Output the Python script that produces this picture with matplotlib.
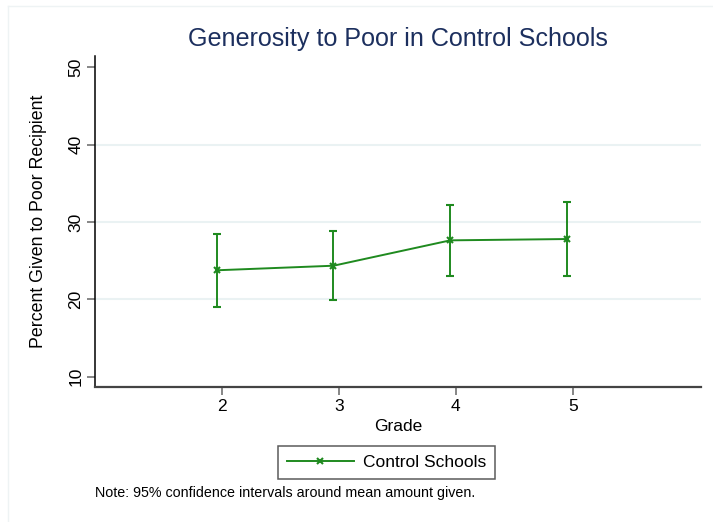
import numpy as np
import matplotlib.pyplot as plt
from matplotlib.lines import Line2D

plt.rcParams['font.family'] = ['Liberation Sans', 'DejaVu Sans']

grades = [2, 3, 4, 5]
mean_given = [23.76, 24.35, 27.63, 27.80]
ci_low = [19.05, 19.92, 23.02, 23.02]
ci_high = [28.45, 28.88, 32.24, 32.55]

# control schools are drawn slightly left of each grade
offset = -0.048

green = '#1f8a1f'
fig = plt.figure(figsize=(7.13, 5.22), dpi=100)
ax = fig.add_axes([0.1332, 0.2586, 0.8496, 0.6341])

x = np.array(grades) + offset
y = np.array(mean_given)
yerr = [y - np.array(ci_low), np.array(ci_high) - y]
ax.errorbar(x, y, yerr=yerr, color=green, lw=1.4, elinewidth=1.4,
            capsize=2.6, capthick=1.4, marker='x', ms=4, mew=1.5)

ax.set_xlim(0.91, 6.096)
ax.set_ylim(8.67, 51.46)
ax.set_xticks(grades)
ax.set_yticks([10, 20, 30, 40, 50])
for g in [20, 30, 40]:
    ax.axhline(g, color='#eaf2f3', lw=1.5, zorder=0)

for s in ['top', 'right']:
    ax.spines[s].set_visible(False)
ax.spines['left'].set_color('black')
ax.spines['bottom'].set_color('#444444')
ax.spines['left'].set_linewidth(1.1)
ax.spines['bottom'].set_linewidth(1.6)
ax.tick_params(axis='both', length=5.5, width=1.1, color='#666666',
               labelsize=12.5, pad=3)
plt.setp(ax.get_yticklabels(), rotation=90, va='center')

ax.set_xlabel('Grade', fontsize=12.5, labelpad=4)
ax.set_ylabel('Percent Given to Poor Recipient', fontsize=12.8, labelpad=15)
ax.set_title('Generosity to Poor in Control Schools', fontsize=18.1,
             color='#1c2f5e', pad=7)

handle = Line2D([], [], color=green, lw=1.4, marker='x', ms=4, mew=1.5)
leg = ax.legend([handle], ['Control Schools'], loc='upper center',
                bbox_to_anchor=(0.542, 0.1456), bbox_transform=fig.transFigure,
                fontsize=12.5, frameon=True, fancybox=False, edgecolor='#333333',
                handlelength=3.9, handletextpad=0.5, borderpad=0.5,
                borderaxespad=0)
leg.get_frame().set_linewidth(1.1)

fig.text(0.1332, 1 - 493 / 522, 'Note: 95% confidence intervals around mean amount given.',
         fontsize=10.3, va='center', ha='left')

# faint outer frame of the graph region
fig.add_artist(Line2D([8 / 713, 1], [1 - 6 / 522, 1 - 6 / 522], color='#eef3f4', lw=1))
fig.add_artist(Line2D([8 / 713, 8 / 713], [0, 1 - 6 / 522], color='#eef3f4', lw=1))

fig.savefig('out.png', dpi=100)
